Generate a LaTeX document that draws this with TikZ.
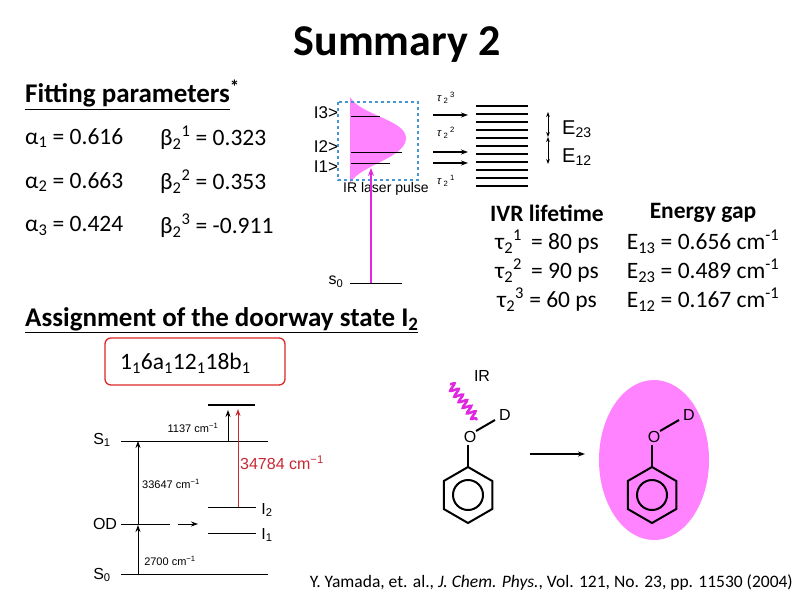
\documentclass[tikz,border=0pt]{standalone}
\usepackage{fontspec}
\setmainfont{Carlito}
\newfontfamily\figfont{Liberation Sans}
\usetikzlibrary{decorations.pathmorphing,arrows.meta,calc}
\definecolor{pinkf}{RGB}{255,130,255}
\definecolor{mag}{RGB}{225,40,225}
\definecolor{boxblue}{RGB}{70,150,210}
\definecolor{redbox}{RGB}{220,40,40}
\definecolor{darkred}{RGB}{200,40,50}
\tikzset{
 txt/.style={anchor=west,inner sep=0pt,font=\fontsize{23.5}{26}\selectfont},
 ctr/.style={inner sep=0pt,font=\fontsize{23.5}{26}\selectfont},
 hdr/.style={anchor=west,inner sep=0pt,font=\bfseries\fontsize{27}{30}\selectfont},
 fig/.style={inner sep=0pt,font=\figfont\fontsize{11}{13}\selectfont},
 big/.style={inner sep=0pt,font=\figfont\fontsize{17}{19}\selectfont},
 lev/.style={line width=0.9pt},
 arr/.style={-{Stealth[length=7pt,width=5pt]},line width=0.9pt},
 bond/.style={line width=2pt},
 tau/.style={inner sep=0pt,font=\figfont\fontsize{11}{12}\selectfont},
}
\begin{document}
\begin{tikzpicture}[x=1pt,y=-1pt]
\useasboundingbox (0,0) rectangle (794,595);
\node[inner sep=0pt,font=\bfseries\fontsize{44}{48}\selectfont] (title) at (397,45) {Summary 2};
\node[hdr] (fp) at (25,95) {\underline{Fitting parameters}\textsuperscript{*}};
\node[txt] (a1) at (25,138) {α\textsubscript{1} = 0.616};
\node[txt] (a2) at (25,182) {α\textsubscript{2} = 0.663};
\node[txt] (a3) at (25,226) {α\textsubscript{3} = 0.424};
\node[txt] (b1) at (160,138) {β\textsubscript{2}\textsuperscript{1} = 0.323};
\node[txt] (b2) at (160,182) {β\textsubscript{2}\textsuperscript{2} = 0.353};
\node[txt] (b3) at (160,226) {β\textsubscript{2}\textsuperscript{3} = -0.911};
% top energy diagram
\fill[pinkf] (350,97) .. controls (360,115) and (406,120) .. (406,138) .. controls (406,158) and (360,165) .. (350,183) -- cycle;
\draw[boxblue,dashed,line width=1.2pt] (338,102) rectangle (418,180);
\draw[lev] (351,116) -- (380,116);
\draw[lev] (351,152) -- (402,152);
\draw[lev] (351,163) -- (390,163);
\node[big] (l3) at (326,113) {I3>};
\node[big] (l2) at (326,147) {I2>};
\node[big] (l1) at (326,167) {I1>};
\node[fig,font=\figfont\fontsize{14}{16}\selectfont] (irp) at (386,189) {IR laser pulse};
\coordinate (s0l) at (350,283); \coordinate (s0r) at (402,283);
\draw[lev] (s0l) -- (s0r);
\node[big,font=\figfont\fontsize{16}{18}\selectfont] (s0) at (336,282) {s\textsubscript{0}};
\draw[mag,-{Stealth[length=8pt,width=6pt]},line width=1.2pt] (371,283) -- (371,168);
\foreach \y in {106,114,...,186} \draw[line width=1.3pt] (476,\y) -- (528,\y);
\foreach \y in {115,152,163} \draw[arr,line width=1.2pt] (433,\y) -- (468,\y);
\node[tau] (t3) at (446,98) {\textit{τ}\,\textsubscript{2}\,\textsuperscript{3}};
\node[tau] (t2) at (446,133) {\textit{τ}\,\textsubscript{2}\,\textsuperscript{2}};
\node[tau] (t1) at (446,181) {\textit{τ}\,\textsubscript{2}\,\textsuperscript{1}};
\draw[{Stealth[length=5pt]}-{Stealth[length=5pt]},line width=0.9pt] (548,112) -- (548,137);
\draw[{Stealth[length=5pt]}-{Stealth[length=5pt]},line width=0.9pt] (548,137) -- (548,164);
\node[big,anchor=west,font=\figfont\fontsize{20}{22}\selectfont] (e23) at (562,129) {E\textsubscript{23}};
\node[big,anchor=west,font=\figfont\fontsize{20}{22}\selectfont] (e12) at (562,157) {E\textsubscript{12}};
% IVR & energy gap
\node[ctr,font=\bfseries\fontsize{23.5}{26}\selectfont] (ivr) at (547,213) {IVR lifetime};
\node[ctr] (i1) at (547,242) {τ\textsubscript{2}\textsuperscript{1} \,= 80 ps};
\node[ctr] (i2) at (547,271) {τ\textsubscript{2}\textsuperscript{2} \,= 90 ps};
\node[ctr] (i3) at (547,300) {τ\textsubscript{2}\textsuperscript{3} = 60 ps};
\node[ctr,font=\bfseries\fontsize{23.5}{26}\selectfont] (eg) at (703,213) {Energy gap};
\node[ctr] (g1) at (703,242) {E\textsubscript{13} = 0.656 cm\textsuperscript{-1}};
\node[ctr] (g2) at (703,271) {E\textsubscript{23} = 0.489 cm\textsuperscript{-1}};
\node[ctr] (g3) at (703,300) {E\textsubscript{12} = 0.167 cm\textsuperscript{-1}};
% assignment
\node[hdr] (asg) at (25,320) {\underline{Assignment of the doorway state I\textsubscript{2}}};
\draw[redbox,line width=1.3pt,rounded corners=6pt] (105,338) rectangle (285,385);
\node[txt] (mode) at (120,363) {1\textsubscript{1}6a\textsubscript{1}12\textsubscript{1}18b\textsubscript{1}};
% bottom energy diagram
\draw[lev] (121,441) -- (268,441);
\draw[line width=1.5pt] (208,405) -- (255,405);
\draw[lev] (121,574) -- (268,574);
\draw[lev] (121,524) -- (170,524);
\draw[arr] (178,524) -- (198,524);
\draw[lev] (208,507) -- (256,507);
\draw[lev] (208,533) -- (256,533);
\draw[arr] (138,574) -- (138,525);
\draw[arr] (138,524) -- (138,441);
\draw[arr] (228,441) -- (228,410);
\draw[darkred,-{Stealth[length=7pt,width=5pt]},line width=0.9pt] (238,507) -- (238,409);
\node[big,font=\figfont\fontsize{16}{18}\selectfont] (S1) at (102,440) {S\textsubscript{1}};
\node[big,font=\figfont\fontsize{16}{18}\selectfont] (OD) at (105,524) {OD};
\node[big,font=\figfont\fontsize{16}{18}\selectfont] (S0) at (102,575) {S\textsubscript{0}};
\node[fig] (c1) at (193,428) {1137 cm\textsuperscript{−1}};
\node[fig] (c2) at (171,484) {33647 cm\textsuperscript{−1}};
\node[fig] (c3) at (170,561) {2700 cm\textsuperscript{−1}};
\node[fig,darkred,anchor=west,font=\figfont\fontsize{16}{18}\selectfont] (c4) at (240,463) {34784 cm\textsuperscript{−1}};
\node[big,font=\figfont\fontsize{16}{18}\selectfont] (I2) at (267,510) {I\textsubscript{2}};
\node[big,font=\figfont\fontsize{16}{18}\selectfont] (I1) at (267,535) {I\textsubscript{1}};
% molecules
\fill[pinkf] (654,460) ellipse (55 and 80);
\foreach \cx/\nm in {468/L,652/R}{
 \node[big,font=\figfont\fontsize{16}{18}\selectfont] (O\nm) at (\cx+2,437) {O};
 \node[big,font=\figfont\fontsize{16}{18}\selectfont] (D\nm) at (\cx+37,415) {D};
 \draw[bond] (\cx+8,431) -- (\cx+27,420);
 \draw[bond] (\cx,445) -- (\cx,467);
 \draw[bond] (\cx,467) -- ++(30:28) -- ++(90:28) -- ++(150:28) -- ++(210:28) -- ++(270:28) -- cycle;
 \draw[bond] (\cx,495) circle (15);
}
\node[big,font=\figfont\fontsize{16}{18}\selectfont] (IR) at (482,376) {IR};
\draw[mag,line width=2.5pt,decorate,decoration={snake,amplitude=4pt,segment length=7pt}] (450,384) -- (477,420);
\draw[arr,line width=1.2pt] (530,454) -- (585,454);
\node[inner sep=0pt,anchor=east,font=\fontsize{17.5}{19}\selectfont] (cit) at (793,582) {Y. Yamada, et. al., \textit{J. Chem. Phys.}, Vol. 121, No. 23, pp. 11530 (2004)};
\end{tikzpicture}
\end{document}
